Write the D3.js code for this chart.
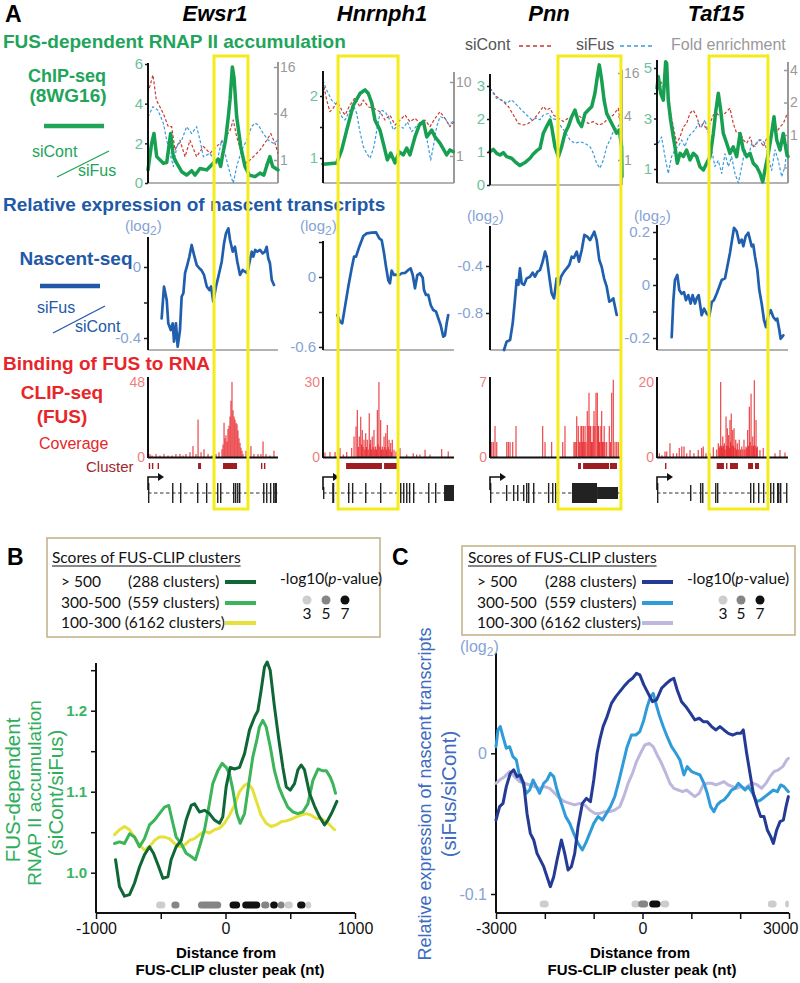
<!DOCTYPE html>
<html><head><meta charset="utf-8">
<script src="https://cdn.jsdelivr.net/npm/d3@7"></script>
<style>body{margin:0;background:#fff}svg{display:block}</style>
</head><body><svg id="chart" width="800" height="983"></svg>
<script>
// ================= DATA =================
const geneNames = ["Ewsr1","Hnrnph1","Pnn","Taf15"];
// yellow highlighted regions (% of gene body)
const highlightRegions = [[50.8,76.9],[11.5,57.3],[51.5,99.2],[39.7,84.7]];

// ChIP-seq: FUS-dependent RNAP II ratio (siCont/siFus), [position %, ratio]
const ewsr1ChipRatio = [[0,0.66],[2.8,2.0],[4.6,2.5],[6.7,1.33],[11.8,1.0],[14.4,1.03],[17.4,2.5],[19.5,1.33],[22.1,1.0],[25.9,0.57],[29.7,0.40],[33.6,0.62],[36.2,0.40],[40,0.73],[45.1,0.66],[50.2,1.0],[54.1,1.2],[55.9,0.83],[57.4,1.42],[59.7,2.17],[61.8,3.35],[63.1,4.2],[64.9,5.85],[66.2,5.3],[68.2,3.35],[71.3,1.85],[74.6,0.83],[77.9,0.40],[82.3,0.32],[86.2,0.5],[89.2,0.40],[91.3,0.86],[93.8,1.33],[95.9,0.83],[100,0.66]];
const hnrnph1ChipRatio = [[0,0.90],[10.5,0.92],[14.3,1.13],[18.1,1.45],[23.1,1.85],[28.2,2.04],[32.1,2.10],[34.6,2.04],[37.2,1.89],[39.7,1.61],[43.5,1.45],[46.0,1.24],[49.1,0.97],[51.7,1.08],[55.0,0.92],[58.2,1.10],[61.3,1.05],[63.9,1.16],[66.4,1.05],[70.2,1.34],[73.5,1.53],[76.6,1.59],[79.2,1.34],[83.0,1.45],[85.5,1.34],[89.3,1.24],[94.4,1.05],[96.9,1.13],[99.5,1.10]];
const pnnChipRatio = [[0,1.01],[2.5,1.08],[5.1,0.96],[7.6,0.91],[10.1,0.98],[12.6,0.86],[16.4,0.81],[18.9,0.71],[22.7,0.59],[26.5,0.68],[30.3,0.81],[32.8,0.94],[35.4,1.04],[37.9,1.11],[40.4,1.57],[42.9,1.77],[45.5,1.97],[46.7,1.77],[49.2,1.16],[51.8,0.86],[54.3,1.16],[56.8,1.57],[59.3,1.77],[61.9,2.07],[64.4,2.27],[66.9,1.92],[69.4,1.77],[72.0,2.17],[74.5,2.27],[77.0,2.37],[79.5,2.78],[81.3,3.28],[82.8,3.64],[84.6,3.18],[86.4,2.58],[88.4,2.17],[90.9,1.97],[93.4,1.77],[95.9,1.57],[98.0,1.67],[99.7,1.16],[100,0.25]];
const taf15ChipRatio = [[0,4.2],[1.0,4.66],[2.8,4.0],[4.8,3.73],[6.6,5.25],[7.4,5.18],[8.6,3.73],[10.4,2.94],[12.0,2.41],[13.7,1.88],[15.5,1.23],[17.6,1.62],[20.1,1.49],[22.6,1.75],[25.2,1.36],[27.7,1.62],[30.3,1.49],[32.8,1.09],[35.4,0.96],[37.9,1.23],[40.5,1.49],[43.0,2.41],[45.0,3.34],[46.8,4.0],[48.6,3.34],[50.6,2.41],[53.2,2.02],[55.7,1.62],[58.2,1.88],[60.8,1.49],[63.4,2.41],[65.9,1.75],[68.5,1.49],[71.0,1.62],[73.5,1.23],[76.1,1.09],[78.6,0.83],[80.7,0.49],[82.4,0.96],[85.0,1.62],[87.5,2.41],[89.3,3.07],[91.4,2.15],[93.9,1.75],[96.4,2.41],[99.0,1.62],[100,1.49]];

// ChIP-seq fold enrichment (siCont / siFus)
const ewsr1ChipSiCont = [[0,7.4],[3.8,12.6],[6.4,6.0],[11.8,4.0],[15.6,2.7],[18.2,2.7],[20.8,1.35],[24.6,1.8],[28.5,1.1],[32.3,1.8],[37.4,1.1],[42.6,1.5],[47.7,1.22],[52.8,1.5],[58.0,1.8],[63.1,2.4],[65.6,3.3],[68.2,2.0],[72.1,1.22],[75.9,0.91],[81.0,1.1],[86.2,1.35],[91.3,1.8],[94.4,2.2],[97.7,1.65],[100,1.22]];
const ewsr1ChipSiFus = [[0,3.6],[3.8,4.9],[7.7,4.4],[11.8,3.0],[14.4,1.8],[16.9,1.22],[19.5,0.82],[22.1,1.49],[25.9,1.8],[29.7,2.7],[33.6,2.2],[37.4,2.7],[40.0,1.8],[42.6,1.1],[47.7,1.22],[52.8,0.9],[56.7,1.8],[59.2,1.22],[63.1,0.67],[65.6,0.5],[68.2,0.82],[72.1,1.35],[75.9,1.8],[79.7,2.7],[82.3,3.0],[84.9,2.84],[88.7,2.2],[92.6,1.8],[96.4,1.65],[100,1.8]];
const hnrnph1ChipSiCont = [[0,10.1],[2.8,5.7],[5.3,3.97],[7.9,4.45],[10.9,5.4],[14.3,4.18],[16.8,3.58],[20.6,4.9],[24.4,6.1],[28.2,4.6],[30.8,5.7],[34.6,4.6],[38.4,4.45],[43.5,3.97],[47.3,3.06],[51.1,3.58],[55.0,2.62],[58.8,3.06],[62.6,3.58],[66.4,2.9],[70.2,3.23],[74.0,2.79],[77.9,3.06],[81.7,2.49],[85.5,3.23],[89.3,3.97],[93.1,3.23],[96.9,2.49],[100,2.9]];
const hnrnph1ChipSiFus = [[0,10.5],[2.8,7.8],[6.6,5.7],[10.4,4.9],[14.3,3.4],[16.8,3.06],[20.6,4.18],[23.1,4.9],[25.7,3.78],[28.2,2.13],[30.8,1.34],[33.3,1.09],[35.9,0.93],[38.9,1.34],[41.5,2.49],[44.0,4.18],[47.3,3.97],[49.9,3.4],[53.7,2.25],[57.5,2.62],[61.3,2.37],[64.4,2.9],[67.7,2.13],[71.0,2.49],[74.0,2.79],[76.6,2.9],[80.4,1.34],[82.2,0.88],[84.2,1.34],[86.8,2.49],[89.3,3.4],[93.1,3.23],[96.4,2.62],[100,3.06]];
const pnnChipSiCont = [[0,9.8],[5.1,7.5],[10.1,6.4],[13.9,5.5],[17.7,4.2],[21.5,3.2],[25.3,3.05],[29.0,3.2],[32.8,3.6],[36.6,4.4],[40.4,5.5],[42.9,4.9],[45.5,5.2],[48.0,4.2],[51.8,3.8],[55.6,3.4],[59.3,3.8],[63.1,4.0],[66.9,4.2],[70.7,3.6],[74.5,3.2],[78.3,3.4],[82.1,3.05],[85.9,3.2],[89.6,3.8],[93.4,4.2],[97.2,5.2],[100,2.4]];
const pnnChipSiFus = [[0,9.8],[5.1,7.1],[8.8,6.8],[12.6,6.1],[16.4,6.8],[20.2,5.8],[24.0,4.9],[27.8,4.2],[31.6,3.6],[35.4,3.8],[37.9,3.6],[40.4,4.2],[44.2,4.4],[46.7,3.8],[50.5,3.6],[53.0,3.05],[56.8,2.47],[60.6,1.89],[64.4,1.7],[68.2,1.79],[72.0,1.7],[75.8,1.53],[78.3,1.24],[80.8,0.90],[83.3,0.77],[85.9,1.0],[88.4,1.53],[90.9,1.89],[93.4,2.47],[95.9,2.74],[98.5,3.2],[100,4.2]];
const taf15ChipSiCont = [[1.0,3.47],[4.8,2.8],[7.4,3.2],[9.9,1.7],[12.5,1.19],[15.0,0.84],[17.6,0.96],[20.1,1.19],[22.6,1.28],[25.2,1.59],[27.7,1.7],[30.3,1.48],[32.8,1.19],[35.4,1.28],[37.9,1.11],[40.5,1.28],[43.0,1.53],[45.5,1.59],[48.1,1.48],[51.9,1.59],[55.7,1.77],[58.2,1.28],[60.8,1.04],[63.4,1.05],[65.9,0.9],[68.5,0.84],[71.0,0.96],[73.5,0.78],[76.1,0.84],[78.6,0.9],[81.2,0.78],[83.7,0.93],[86.3,0.96],[88.8,1.11],[91.4,1.07],[93.9,1.19],[96.4,1.28],[99.0,1.53]];
const taf15ChipSiFus = [[1.0,0.84],[3.5,0.96],[6.1,0.63],[8.6,0.44],[11.1,0.63],[13.7,0.73],[16.2,0.78],[18.8,0.9],[21.3,0.78],[23.9,0.96],[26.4,1.04],[28.9,1.11],[31.5,1.28],[34.0,1.19],[36.6,1.38],[39.1,1.04],[41.7,0.73],[44.2,0.51],[46.8,0.58],[49.4,0.44],[51.9,0.67],[54.5,0.51],[57.0,0.63],[59.5,0.44],[62.1,0.36],[64.7,0.51],[67.2,0.73],[69.7,0.63],[72.3,0.84],[74.8,0.78],[77.4,0.9],[79.9,0.9],[82.4,0.84],[85.0,0.63],[87.5,0.47],[90.1,0.73],[92.6,0.58],[95.2,0.41],[97.7,0.51],[99.5,0.84]];

// Nascent-seq log2(siFus/siCont)
const ewsr1Nascent = [[10.5,-0.29],[12.3,-0.11],[14.4,-0.186],[15.6,-0.317],[17.5,-0.355],[19.0,-0.317],[20.0,-0.42],[21.5,-0.317],[22.8,-0.449],[24.6,-0.355],[25.9,-0.167],[27.2,-0.148],[28.5,-0.035],[30.2,0.011],[31.8,0.058],[33.6,0.124],[35.4,0.068],[37.5,0.011],[39.5,-0.007],[41.3,-0.02],[43.1,-0.045],[45.2,-0.11],[47.2,-0.13],[48.5,-0.11],[50.2,-0.195],[52.3,-0.11],[54.1,-0.055],[56.7,0.03],[58.5,0.134],[60.0,0.19],[61.8,0.218],[63.1,0.152],[65.2,0.086],[66.9,0.114],[68.7,0.03],[70.8,-0.045],[72.8,-0.017],[74.6,-0.026],[76.4,-0.035],[77.9,0.021],[79.8,0.086],[81.0,0.058],[82.5,0.096],[84.1,0.086],[86.2,0.096],[88.2,0.077],[90.0,0.086],[91.3,0.114],[92.5,0.049],[93.8,0.021],[95.2,-0.073],[96.9,-0.101]];
const hnrnph1Nascent = [[10.9,-0.326],[13.0,-0.383],[14.7,-0.397],[16.8,-0.254],[19.3,-0.083],[21.9,0.074],[23.7,0.174],[25.2,0.174],[27.7,0.26],[30.8,0.351],[33.4,0.374],[37.2,0.38],[40.5,0.383],[43.0,0.331],[44.8,0.317],[46.6,0.203],[48.1,0.088],[49.8,-0.026],[51.1,-0.054],[52.4,0.054],[54.2,0.017],[56.3,0.02],[58.2,0.017],[60.1,0.032],[62.6,0.035],[65.1,0.06],[66.9,0.074],[68.5,0.017],[70.2,-0.097],[72.0,0.017],[74.0,0.032],[76.1,-0.006],[77.1,-0.111],[78.6,-0.154],[80.4,-0.154],[82.2,-0.24],[84.2,-0.283],[86.3,-0.297],[88.0,-0.354],[89.8,-0.411],[91.8,-0.511],[93.1,-0.5],[94.4,-0.397],[95.6,-0.326]];
const pnnNascent = [[10.6,-1.115],[12.6,-1.044],[15.2,-1.03],[17.2,-0.888],[18.9,-0.689],[20.2,-0.519],[21.5,-0.56],[22.7,-0.42],[24.0,-0.547],[25.8,-0.56],[27.8,-0.505],[30.3,-0.491],[32.3,-0.457],[34.1,-0.491],[35.9,-0.45],[37.9,-0.434],[39.9,-0.363],[41.7,-0.278],[42.9,-0.32],[44.9,-0.491],[46.7,-0.632],[48.5,-0.675],[50.5,-0.505],[52.3,-0.56],[53.8,-0.491],[56.1,-0.448],[58.1,-0.42],[60.1,-0.391],[61.9,-0.32],[63.6,-0.33],[65.7,-0.278],[67.4,-0.363],[69.5,-0.264],[71.5,-0.136],[73.7,-0.15],[75.8,-0.179],[77.8,-0.136],[79.0,-0.108],[80.8,-0.179],[82.8,-0.349],[84.6,-0.406],[86.4,-0.505],[88.4,-0.576],[90.4,-0.704],[92.2,-0.69],[93.4,-0.675],[94.7,-0.746],[96.0,-0.817]];
const taf15Nascent = [[11.2,-0.197],[12.5,-0.057],[13.7,0.019],[15.5,0.038],[17.0,-0.019],[18.8,-0.033],[20.6,-0.027],[22.1,-0.057],[23.9,-0.038],[25.7,-0.07],[27.2,-0.038],[29.0,-0.07],[30.3,-0.05],[31.8,-0.038],[34.1,-0.114],[35.9,-0.089],[37.9,-0.108],[39.9,-0.118],[41.8,-0.064],[43.5,-0.057],[45.6,-0.032],[47.6,-0.006],[49.4,0.019],[51.9,0.025],[53.7,0.07],[55.7,0.121],[57.3,0.171],[58.8,0.216],[60.8,0.203],[62.8,0.159],[64.7,0.171],[65.9,0.146],[67.7,0.184],[69.7,0.197],[71.0,0.171],[72.3,0.146],[73.5,0.152],[74.8,0.108],[76.6,0.057],[78.1,-0.019],[79.9,-0.07],[81.7,-0.133],[83.2,-0.159],[85.0,-0.114],[86.8,-0.095],[88.8,-0.121],[90.8,-0.133],[91.8,-0.127],[93.4,-0.171],[94.4,-0.203],[96.4,-0.19]];

// CLIP-seq coverage [position %, reads]
const ewsr1Clip = [[1.5,2],[3.1,1],[6.2,2],[9.2,1],[12.3,2],[15.4,1],[18.5,1],[21.5,2],[24.6,2],[26.9,1],[29.2,2],[32.3,3],[34.6,7],[36.9,2],[38.5,24],[40.8,3],[43.1,5],[46.2,2],[49.2,1],[52.3,2],[54.6,3],[56.9,5],[57.7,8],[58.5,22],[59.2,12],[60.0,14],[60.8,10],[61.5,18],[62.3,20],[63.1,26],[63.8,36],[64.6,48],[65.4,30],[66.2,26],[66.9,24],[67.7,22],[68.5,21],[69.2,17],[70.0,12],[70.8,9],[71.5,6],[72.3,4],[73.1,2],[75.4,4],[76.9,2],[79.2,7],[81.5,2],[84.6,2],[86.9,2],[88.5,10],[90.8,2],[93.8,1],[96.9,4]];
const hnrnph1Clip = [[1.5,1.8],[5.3,2],[9.2,2],[13.0,3.6],[15.5,1],[18.1,2],[21.9,3.6],[23.7,8.2],[25.2,12.2],[26.2,18.8],[27.0,4],[27.7,8.2],[28.8,16.1],[29.4,5],[30.0,10.8],[30.6,4],[31.3,6.9],[32.0,3],[32.6,9.5],[33.2,4],[33.8,6.9],[34.5,3],[35.3,17.5],[35.9,5],[36.4,6.9],[37.0,3],[37.6,8.2],[38.3,4],[38.9,10.8],[39.5,3],[40.2,4.2],[40.8,3],[41.5,18.8],[42.1,5],[42.7,30],[43.4,4],[44.0,14.8],[44.6,3],[45.3,4.2],[46.0,3],[46.6,8.2],[47.2,4],[47.9,9.5],[48.5,3],[49.1,12.8],[49.8,4],[50.4,6.9],[51.1,3],[51.7,5.6],[52.3,2],[52.9,6.9],[54.2,2.9],[55.7,2.2],[58.8,3.6],[63.9,1],[68.9,1.5],[71.5,1],[74.0,1],[77.9,2.9],[81.7,1],[90.6,3.2],[95.6,2.2]];
const pnnClip = [[1.3,1.4],[2.5,1.4],[3.8,2.9],[5.1,1.4],[12.7,1.4],[13.9,1.4],[15.2,1.4],[17.2,1.4],[19.7,2.9],[39.9,2.9],[41.7,1.4],[46.7,1.4],[55.1,1.4],[56.8,2.9],[63.6,1.4],[64.4,1.4],[65.2,1.4],[65.7,3.8],[66.9,2.9],[67.6,1.4],[68.2,1.4],[68.9,2.9],[69.5,2.9],[70.1,1.4],[70.7,2.9],[71.4,1.4],[72.0,2.9],[72.7,1.4],[73.7,4.3],[74.4,2.9],[75.0,6.0],[75.7,2.9],[76.3,2.9],[76.9,1.4],[77.5,1.4],[78.2,2.9],[78.8,4.3],[79.5,2.9],[80.3,6.0],[81.3,6.0],[81.8,2.9],[82.3,2.9],[82.8,1.4],[83.3,1.4],[84.0,2.9],[84.6,4.3],[85.2,1.4],[85.8,1.4],[86.5,2.9],[87.1,1.4],[88.4,1.4],[90.4,2.9],[91.3,1.4],[92.2,6.0],[93.4,7.2],[94.7,1.4],[96.0,1.4],[97.2,1.4]];
const taf15Clip = [[1.8,1],[3.8,0.5],[6.1,1.5],[7.4,1.5],[9.9,3.7],[12.4,1],[15.0,1],[17.0,2.4],[18.9,2.8],[20.6,2.8],[22.7,1],[25.2,1.9],[28.2,1],[31.5,1.9],[34.1,2.4],[35.3,2.8],[37.4,1],[40.5,1],[43.0,2.6],[45.6,2],[46.8,3.7],[47.5,2.5],[48.0,3],[48.6,20],[49.2,3],[49.7,2.5],[50.2,5.5],[50.8,3],[51.4,3.7],[52.0,2],[52.7,10.8],[53.2,3],[53.7,7.7],[54.2,3],[54.7,5.9],[55.2,2.5],[55.7,9.9],[56.2,4],[56.7,11.6],[57.2,3],[57.8,7.2],[58.3,3],[58.8,7.7],[59.5,2.5],[60.1,4.6],[60.7,2],[61.3,3.7],[62.0,2],[62.8,4.6],[63.7,2],[64.7,2.8],[65.5,2],[66.4,4.6],[67.1,2],[67.9,2.8],[68.5,2.5],[69.2,7.2],[69.8,3],[70.5,13.4],[71.1,4],[71.8,16.9],[72.4,3],[73.1,5.5],[73.7,3],[74.3,20.5],[74.9,3],[75.6,9.9],[76.1,2.5],[76.6,2.8],[78.6,1.9],[81.1,2.4],[90.1,1],[93.9,1.9],[97.7,1.2]];

// CLIP clusters [start %, end %]
const ewsr1Clusters = [[0.6,1.3],[3.0,3.7],[7.4,8.1],[38.5,40.8],[57.7,68.5],[86.9,87.7],[89.2,90.0]];
const hnrnph1Clusters = [[17.6,45.0],[46.6,56.5]];
const pnnClusters = [[66.7,68.9],[70.5,90.2],[90.9,96.2]];
const taf15Clusters = [[6.1,6.9],[45.6,51.1],[52.7,53.4],[55.7,61.8],[69.5,73.3],[74.8,77.9]];

// gene models: exons [start %, end %, relative thickness]
const ewsr1Exons = [[0,0.6,1],[18.5,19.2,1],[24.6,25.2,1],[37.7,38.3,1],[44.6,45.2,1],[53.1,53.7,1],[55.4,56,1],[65.4,66,1],[66.9,67.5,1],[68.5,69.1,1],[70.0,70.6,1],[76.2,76.8,1],[88.5,89.1,1],[90.8,91.4,1],[93.8,94.4,1],[96.2,96.8,1],[97.3,99.2,1]];
const hnrnph1Exons = [[0,0.8,0.6],[7.0,8.6,1],[19.1,19.9,1],[22.1,22.9,1],[32.1,32.9,1],[43.5,44.3,1],[58.8,59.5,1],[61.1,61.8,1],[63.4,64.1,1],[65.6,66.3,1],[68.7,69.4,1],[80.2,80.9,1],[85.5,86.2,1],[92.4,100,0.8]];
const pnnExons = [[0,0.8,1],[12.1,12.7,0.8],[17.4,18,0.8],[20.5,21.1,0.8],[25.0,25.6,0.8],[27.3,27.9,1],[28.8,29.4,1],[32.6,33.2,1],[43.9,44.5,1],[47.0,47.6,1],[49.2,49.8,1],[62.1,81.1,1],[81.1,97.0,0.6]];
const taf15Exons = [[0,0.6,1],[25.2,25.8,0.8],[32.8,33.4,1],[34.4,35,1],[44.3,44.9,1],[45.8,46.4,1],[71.0,71.6,1],[73.3,73.9,1],[77.1,77.7,1],[80.9,81.5,1],[86.3,86.9,1],[88.5,89.1,1],[91.6,92.2,1],[92.4,93,1],[93.9,94.5,1],[98.5,99.1,1]];

// axis tick labels panel A
const chipLeftTicks = [[0,2,4,6],[1,2],[0,1,2,3],[1,3,5]];
const chipLeftMinor = [[],[1.5],[],[2,4]];
const chipRightTicks = [[1,4,16],[1,10],[1,4,16],[1,2,4]];
const chipRightMinor = [[],[],[],[0.5]];
const nascentTicks = [[0,-0.4],[0,-0.6],[-0.4,-0.8],[0.2,0,-0.2]];
const nascentMinor = [[-0.2],[0.3,-0.3],[],[0.1,-0.1]];
const clipMax = [48,30,7,20];

// Panel B: RNAP II accumulation around FUS-CLIP cluster peaks [nt, siCont/siFus]
const bGt500 = [[-849,1.016],[-819,0.983],[-780,0.971],[-741,0.973],[-703,0.987],[-664,1.007],[-626,1.022],[-587,1.032],[-556,1.024],[-515,1.007],[-484,0.993],[-445,0.995],[-420,1.016],[-381,1.032],[-342,1.040],[-304,1.065],[-265,1.083],[-239,1.085],[-201,1.075],[-162,1.077],[-124,1.073],[-85,1.065],[-46,1.061],[-21,1.069],[5,1.106],[36,1.130],[69,1.128],[108,1.130],[147,1.147],[185,1.176],[224,1.192],[250,1.200],[275,1.225],[301,1.254],[322,1.260],[345,1.250],[378,1.205],[412,1.164],[443,1.130],[469,1.106],[500,1.102],[533,1.110],[559,1.127],[585,1.133],[610,1.127],[649,1.098],[688,1.082],[726,1.069],[765,1.059],[791,1.065],[824,1.075],[860,1.088]];
const b300to500 = [[-857,1.036],[-819,1.038],[-780,1.036],[-741,1.048],[-703,1.044],[-664,1.032],[-626,1.042],[-587,1.059],[-548,1.065],[-510,1.073],[-471,1.081],[-438,1.083],[-412,1.065],[-381,1.044],[-342,1.036],[-304,1.024],[-265,1.020],[-232,1.016],[-201,1.032],[-162,1.053],[-129,1.081],[-98,1.110],[-59,1.126],[-26,1.135],[5,1.130],[31,1.122],[57,1.102],[87,1.073],[113,1.061],[147,1.073],[180,1.110],[211,1.143],[242,1.164],[262,1.180],[288,1.188],[314,1.180],[345,1.156],[378,1.126],[412,1.106],[443,1.094],[481,1.081],[520,1.075],[559,1.073],[597,1.075],[636,1.085],[675,1.114],[714,1.128],[747,1.126],[778,1.126],[809,1.118],[829,1.110],[850,1.098]];
const b100to300 = [[-857,1.047],[-819,1.053],[-780,1.057],[-741,1.053],[-703,1.044],[-664,1.034],[-626,1.028],[-587,1.032],[-548,1.040],[-510,1.044],[-471,1.044],[-433,1.042],[-394,1.036],[-355,1.032],[-317,1.034],[-278,1.040],[-239,1.042],[-201,1.047],[-162,1.051],[-124,1.049],[-85,1.053],[-46,1.055],[-8,1.061],[31,1.071],[69,1.083],[108,1.100],[147,1.108],[172,1.110],[206,1.104],[237,1.089],[275,1.071],[314,1.061],[353,1.057],[391,1.059],[430,1.063],[469,1.064],[507,1.066],[546,1.069],[585,1.071],[623,1.073],[662,1.071],[700,1.067],[739,1.067],[778,1.063],[817,1.057],[842,1.053]];
// significance strips [start nt, end nt, -log10(p)]
const bSignif = [[-536,-464,3],[-418,-355,5],[-213,-33,5],[31,113,7],[129,268,7],[275,339,5],[345,404,7],[404,456,5],[456,520,3],[553,618,7],[618,662,3]];

// Panel C: nascent transcripts log2(siFus/siCont) around cluster peaks
const cGt500 = [[-3000,-0.0474],[-2926,-0.0379],[-2857,-0.0356],[-2789,-0.0237],[-2707,-0.0142],[-2638,-0.0118],[-2570,-0.0166],[-2502,-0.0154],[-2433,-0.0213],[-2365,-0.0427],[-2297,-0.0569],[-2228,-0.0616],[-2160,-0.0711],[-2092,-0.0758],[-2023,-0.0806],[-1955,-0.0877],[-1887,-0.0948],[-1818,-0.0877],[-1750,-0.0758],[-1661,-0.0616],[-1593,-0.0711],[-1524,-0.0829],[-1456,-0.0806],[-1388,-0.0711],[-1320,-0.0521],[-1231,-0.0356],[-1149,-0.0320],[-1067,-0.0344],[-998,-0.0190],[-930,0.0],[-875,0.0095],[-807,0.0190],[-725,0.0261],[-636,0.0355],[-547,0.0403],[-465,0.0438],[-383,0.0474],[-294,0.0509],[-205,0.0533],[-123,0.0569],[-55,0.0557],[27,0.0486],[116,0.0426],[205,0.0367],[287,0.0379],[390,0.0462],[492,0.0497],[574,0.0521],[642,0.0533],[711,0.0450],[800,0.0367],[889,0.0331],[984,0.0284],[1073,0.0237],[1162,0.0249],[1244,0.0225],[1326,0.0225],[1415,0.0190],[1504,0.0166],[1586,0.0190],[1668,0.0166],[1757,0.0142],[1846,0.0130],[1928,0.0142],[2010,0.0142],[2064,0.0166],[2133,0.0],[2201,-0.0142],[2269,-0.0284],[2351,-0.0379],[2420,-0.0450],[2488,-0.0450],[2556,-0.0545],[2625,-0.0592],[2680,-0.0640],[2748,-0.0545],[2816,-0.0486],[2885,-0.0474],[2939,-0.0379],[2987,-0.0308]];
const c300to500 = [[-3000,0.0047],[-2960,0.0166],[-2912,0.0190],[-2857,0.0118],[-2789,0.0036],[-2721,0.0047],[-2652,-0.0024],[-2584,-0.0047],[-2516,-0.0166],[-2447,-0.0213],[-2379,-0.0284],[-2311,-0.0261],[-2242,-0.0190],[-2174,-0.0237],[-2106,-0.0284],[-2023,-0.0213],[-1955,-0.0190],[-1887,-0.0142],[-1818,-0.0166],[-1750,-0.0261],[-1661,-0.0356],[-1572,-0.0450],[-1490,-0.0498],[-1408,-0.0569],[-1320,-0.0640],[-1231,-0.0687],[-1149,-0.0628],[-1081,-0.0569],[-998,-0.0498],[-909,-0.0450],[-820,-0.0474],[-739,-0.0427],[-657,-0.0379],[-568,-0.0308],[-479,-0.0190],[-397,-0.0071],[-315,0.0047],[-226,0.0130],[-137,0.0130],[-55,0.0154],[27,0.0237],[96,0.0331],[164,0.0403],[219,0.0426],[274,0.0355],[342,0.0273],[424,0.0190],[506,0.0118],[595,0.0047],[684,0.0],[766,-0.0047],[848,-0.0154],[916,-0.0095],[1005,-0.0130],[1094,-0.0142],[1176,-0.0154],[1258,-0.0213],[1326,-0.0284],[1395,-0.0379],[1463,-0.0415],[1531,-0.0367],[1600,-0.0344],[1668,-0.0332],[1757,-0.0296],[1826,-0.0261],[1894,-0.0249],[1962,-0.0213],[2030,-0.0237],[2099,-0.0261],[2167,-0.0237],[2256,-0.0284],[2338,-0.0344],[2420,-0.0332],[2509,-0.0308],[2597,-0.0284],[2680,-0.0261],[2761,-0.0273],[2830,-0.0225],[2898,-0.0237],[2987,-0.0273]];
const c100to300 = [[-3000,-0.0213],[-2926,-0.0190],[-2823,-0.0166],[-2721,-0.0130],[-2618,-0.0166],[-2516,-0.0201],[-2413,-0.0213],[-2311,-0.0225],[-2208,-0.0237],[-2106,-0.0249],[-2003,-0.0237],[-1900,-0.0249],[-1798,-0.0284],[-1695,-0.0320],[-1593,-0.0344],[-1490,-0.0356],[-1388,-0.0367],[-1285,-0.0356],[-1183,-0.0367],[-1081,-0.0403],[-978,-0.0427],[-875,-0.0427],[-773,-0.0415],[-670,-0.0415],[-568,-0.0403],[-465,-0.0379],[-383,-0.0308],[-294,-0.0213],[-205,-0.0142],[-123,-0.0059],[-41,0.0],[48,0.0059],[137,0.0071],[219,0.0047],[301,-0.0012],[390,-0.0071],[479,-0.0142],[561,-0.0213],[642,-0.0249],[731,-0.0261],[820,-0.0273],[902,-0.0261],[984,-0.0284],[1073,-0.0308],[1162,-0.0284],[1244,-0.0225],[1326,-0.0213],[1415,-0.0213],[1504,-0.0225],[1586,-0.0213],[1668,-0.0201],[1757,-0.0225],[1846,-0.0237],[1928,-0.0249],[2010,-0.0237],[2099,-0.0249],[2187,-0.0225],[2269,-0.0213],[2351,-0.0225],[2440,-0.0249],[2529,-0.0213],[2611,-0.0166],[2693,-0.0130],[2782,-0.0118],[2871,-0.0095],[2953,-0.0047],[2987,-0.0036]];
const cSignif = [[-2106,-1921,3],[-226,-55,3],[-89,116,5],[137,369,7],[369,547,3],[2565,2748,3],[2920,3000,3]];

const legendScores = ["> 500","300-500","100-300"];
const legendCounts = ["(288 clusters)","(559 clusters)","(6162 clusters)"];
const pvalLevels = [3,5,7];

// ================= DRAWING =================
const F = '"Liberation Sans", Arial, Helvetica, sans-serif';
const FL = 'Lato, "Open Sans", sans-serif';
const svg = d3.select("#chart");
svg.append("rect").attr("width",800).attr("height",983).attr("fill","#fff");

function T(x,y,s,o={}){
  const t = svg.append("text").attr("x",x).attr("y",y).text(s)
    .attr("font-family",o.ff||F).attr("font-size",o.fs||15).attr("fill",o.c||"#000");
  if(o.fw) t.attr("font-weight",o.fw);
  if(o.st) t.attr("font-style",o.st);
  if(o.a) t.attr("text-anchor",o.a);
  if(o.tr) t.attr("transform",o.tr);
  return t;
}
function drawLine(data,xs,ys,color,w,dash){
  svg.append("path").datum(data)
    .attr("d",d3.line().x(d=>xs(d[0])).y(d=>ys(d[1])))
    .attr("fill","none").attr("stroke",color).attr("stroke-width",w)
    .attr("stroke-linejoin","round").attr("stroke-linecap",dash?"butt":"round")
    .attr("stroke-dasharray",dash||null);
}
function yAxis(scale,x,ticks,minor,yTop,yBot,o){
  const mk = ()=> (o.right? d3.axisRight(scale): d3.axisLeft(scale));
  const ts = (o.ts===undefined)?4:o.ts;
  const g = svg.append("g").attr("transform",`translate(${x},0)`)
    .call(mk().tickValues(ticks).tickSize(ts).tickPadding(o.tp===undefined?3:o.tp).tickFormat(o.fmt||(d=>String(d))));
  g.select(".domain").remove();
  g.selectAll(".tick line").attr("stroke",o.tc).attr("stroke-width",1.5);
  g.selectAll(".tick text").attr("fill",o.lc).attr("font-size",o.fs||15).attr("font-family",F).attr("font-weight",o.fw||null);
  if(minor && minor.length){
    const g2 = svg.append("g").attr("transform",`translate(${x},0)`)
      .call(mk().tickValues(minor).tickSize(ts).tickFormat(""));
    g2.select(".domain").remove();
    g2.selectAll(".tick line").attr("stroke",o.tc).attr("stroke-width",1.5);
  }
  svg.append("line").attr("x1",x).attr("x2",x).attr("y1",yTop).attr("y2",yBot)
    .attr("stroke",o.ac).attr("stroke-width",o.aw||2);
}
function hLine(x1,x2,y,c,w,dash){
  return svg.append("line").attr("x1",x1).attr("x2",x2).attr("y1",y).attr("y2",y).attr("stroke",c).attr("stroke-width",w).attr("stroke-dasharray",dash||null);
}

const GREEN="#22a45a", BLUE="#2159a8", RED="#e8262a";
const NAVY_LINE="#1f5fae";

// ---------- Panel A headers ----------
T(5,22,"A",{fs:23,fw:"bold"});
const geneCenters=[215,382,549,716];
geneNames.forEach((g,i)=>T(geneCenters[i],21,g,{fs:22,fw:"bold",st:"italic",a:"middle"}));
T(3,48,"FUS-dependent RNAP II accumulation",{fs:19,fw:"bold",c:GREEN});
T(3,211,"Relative expression of nascent transcripts",{fs:19,fw:"bold",c:BLUE});
T(3,370,"Binding of FUS to RNA",{fs:19,fw:"bold",c:RED});

// top legend
T(465,50,"siCont",{fs:16,c:"#555"});
hLine(519,553,46,"#c8392f",1.3,"4,3");
T(576,50,"siFus",{fs:16,c:"#555"});
hLine(620,655,46,"#3a9be0",1.3,"4,3");
T(671,50,"Fold enrichment",{fs:16,c:"#999"});

// left labels
T(67,82,"ChIP-seq",{fs:18,fw:"bold",c:GREEN,a:"middle"});
T(68,102,"(8WG16)",{fs:19,fw:"bold",c:GREEN,a:"middle"});
hLine(44,104,126,GREEN,4.5);
T(32,157,"siCont",{fs:16,c:GREEN});
T(78,176,"siFus",{fs:16,c:GREEN});
svg.append("line").attr("x1",57).attr("y1",177).attr("x2",109).attr("y2",151).attr("stroke",GREEN).attr("stroke-width",1.3);

T(76,265,"Nascent-seq",{fs:19,fw:"bold",c:BLUE,a:"middle"});
hLine(40,100,286,BLUE,4.5);
T(37,313,"siFus",{fs:16,c:BLUE});
T(75,332,"siCont",{fs:16,c:BLUE});
svg.append("line").attr("x1",53).attr("y1",333).attr("x2",105).attr("y2",306).attr("stroke",BLUE).attr("stroke-width",1.3);

T(62,399,"CLIP-seq",{fs:19,fw:"bold",c:RED,a:"middle"});
T(62,423,"(FUS)",{fs:19,fw:"bold",c:RED,a:"middle"});
T(39,449,"Coverage",{fs:16,c:RED});
T(86,472,"Cluster",{fs:15,c:"#a0282a"});

// ---------- Panel A tracks ----------
const plotX=[[148,278],[323,454],[490,622],[657,788]];
const chipRatio=[ewsr1ChipRatio,hnrnph1ChipRatio,pnnChipRatio,taf15ChipRatio];
const chipSiCont=[ewsr1ChipSiCont,hnrnph1ChipSiCont,pnnChipSiCont,taf15ChipSiCont];
const chipSiFus=[ewsr1ChipSiFus,hnrnph1ChipSiFus,pnnChipSiFus,taf15ChipSiFus];
const nascent=[ewsr1Nascent,hnrnph1Nascent,pnnNascent,taf15Nascent];
const clip=[ewsr1Clip,hnrnph1Clip,pnnClip,taf15Clip];
const clusters=[ewsr1Clusters,hnrnph1Clusters,pnnClusters,taf15Clusters];
const exons=[ewsr1Exons,hnrnph1Exons,pnnExons,taf15Exons];

// scale calibration (layout)
const lin=(v0,y0,v1,y1)=>d3.scaleLinear().domain([v0,v1]).range([y0,y1]);
const lg=(b,v0,y0,v1,y1)=>d3.scaleLog().base(b).domain([v0,v1]).range([y0,y1]);
const chipL=[lin(0,183,6,64),lin(1,158,2,96),lin(0,185,3,86),lin(1,169,5,68)];
const chipR=[lg(2,1,160,16,67),lg(10,1,156,10,82),lg(2,1,160,16,73),lg(2,1,135,4,70)];
const chipLTop=[63,71,74,60], chipRTop=[62,72,70,62], chipBot=[183,183,185,183];
const nasS=[lin(0,267,-0.4,338),lin(0,277,-0.6,347),lin(-0.4,266,-0.8,313),lin(0,285,0.2,232)];
const nasTop=[237,241,226,225], nasBot=350;
const logLabY=[231,231,221,221];
const clipBot=457, clipTopV=382;

geneNames.forEach((g,i)=>{
  const x=d3.scaleLinear().domain([0,100]).range(plotX[i]);
  const [x0,x1]=plotX[i];
  // ChIP
  hLine(x0,x1,chipBot[i],"#999",1.5);
  yAxis(chipR[i],x1,chipRightTicks[i],chipRightMinor[i],chipRTop[i],chipBot[i],{right:true,ts:-4,tp:2,tc:"#999",lc:"#9a9a9a",ac:"#999",fs:14});
  drawLine(chipSiCont[i],x,chipR[i],"#cc3b30",1.2,"3,2");
  drawLine(chipSiFus[i],x,chipR[i],"#3a9be0",1.2,"3,2");
  drawLine(chipRatio[i],x,chipL[i],"#17a052",3.5);
  yAxis(chipL[i],x0,chipLeftTicks[i],chipLeftMinor[i],chipLTop[i],chipBot[i],{ts:3,tp:2,tc:"#222",lc:"#6cc39c",ac:"#111",fs:15});

  // Nascent
  hLine(x0,x1,nasBot,"#999",1.5);
  drawLine(nascent[i],x,nasS[i],NAVY_LINE,2.7);
  yAxis(nasS[i],x0,nascentTicks[i],nascentMinor[i],nasTop[i],nasBot,{tc:"#222",lc:"#86a3d6",ac:"#111",fs:15});
  const lt=T(x0-23,logLabY[i],"(log",{fs:15,c:"#86a3d6"});
  lt.append("tspan").attr("dy",4).attr("font-size",12).text("2");
  lt.append("tspan").attr("dy",-4).text(")");

  // CLIP
  const cy=lin(0,clipBot,clipMax[i],clipTopV);
  svg.append("g").selectAll("line").data(clip[i]).join("line")
    .attr("x1",d=>x(d[0])).attr("x2",d=>x(d[0]))
    .attr("y1",cy(0)).attr("y2",d=>cy(d[1]))
    .attr("stroke",RED).attr("stroke-width",1.2).attr("stroke-opacity",0.85);
  hLine(x0,x1,clipBot+0.5,"#111",1.8);
  yAxis(cy,x0,[0,clipMax[i]],[],377,clipBot+1,{ts:0,tp:3,tc:"#111",lc:"#ef7f7f",ac:"#111",fs:14});
  svg.append("g").selectAll("rect").data(clusters[i]).join("rect")
    .attr("x",d=>x(d[0])).attr("width",d=>Math.max(1.4,x(d[1])-x(d[0])))
    .attr("y",463).attr("height",6).attr("fill","#9e1f22");

  // gene model
  svg.append("line").attr("x1",x(0)).attr("x2",x(100)).attr("y1",493).attr("y2",493)
    .attr("stroke","#333").attr("stroke-width",1.2).attr("stroke-dasharray","3.5,2.5");
  svg.append("g").selectAll("rect").data(exons[i]).join("rect")
    .attr("x",d=>x(d[0])).attr("width",d=>Math.max(1.4,x(d[1])-x(d[0])))
    .attr("y",d=>493-10*d[2]).attr("height",d=>20*d[2]).attr("fill","#222");
  svg.append("path").attr("d",`M${x(0)},490V477H${x(0)+11}`).attr("fill","none").attr("stroke","#111").attr("stroke-width",1.6);
  svg.append("path").attr("d",`M${x(0)+10},473L${x(0)+16},477L${x(0)+10},481Z`).attr("fill","#111");

  // yellow highlight
  const h=highlightRegions[i];
  svg.append("rect").attr("x",x(h[0])).attr("y",56).attr("width",x(h[1])-x(h[0])).attr("height",453)
    .attr("fill","none").attr("stroke","#f4ec1a").attr("stroke-width",3);
});

// ---------- Panel B & C legends ----------
function pColor(v){ return v>=7?"#111":v>=5?"#858585":v>=4?"#aaa":"#cdcdcd"; }
function legend(o){
  svg.append("rect").attr("x",o.bx).attr("y",o.by).attr("width",o.bw).attr("height",o.bh)
    .attr("fill","#fff").attr("stroke","#c4b48c").attr("stroke-width",1.6);
  const t=T(o.tx,563,"Scores of FUS-CLIP clusters",{ff:FL,fs:15.5,c:"#111"});
  const w=t.node().getComputedTextLength();
  hLine(o.tx,o.tx+w,566,"#111",1);
  const rowY=[587,608,628];
  legendScores.forEach((s,k)=>{
    if(k<2){ T(o.rx,rowY[k],s,{ff:FL,fs:15.5,c:"#111"}); T(o.cx,rowY[k],legendCounts[k],{ff:FL,fs:15.5,c:"#111"}); }
    else T(o.rx,rowY[k],s+" "+legendCounts[k],{ff:FL,fs:15.5,c:"#111"});
    hLine(o.lx,o.lx+31,rowY[k]-5,o.colors[k],4);
  });
  const p=T(o.px,584,"-log10(",{ff:FL,fs:15.5,c:"#111"});
  p.append("tspan").attr("font-style","italic").text("p");
  p.append("tspan").text("-value)");
  pvalLevels.forEach((v,k)=>{
    svg.append("circle").attr("cx",o.dx[k]).attr("cy",600).attr("r",4.5).attr("fill",pColor(v));
    T(o.dx[k],619,String(v),{ff:FL,fs:15.5,c:"#111",a:"middle"});
  });
}
const bColors=["#0f6636","#3cb45a","#e6e13a"];
const cColors=["#243b96","#2f9bd8","#beb7dd"];
legend({bx:47,by:538,bw:333,bh:99,tx:52,rx:61,cx:128,lx:225,px:280,dx:[307,326,345],colors:bColors});
legend({bx:462,by:546,bw:333,bh:89,tx:468,rx:477,cx:545,lx:642,px:687,dx:[723,741,760],colors:cColors});

T(7,565,"B",{fs:23,fw:"bold"});
T(392,565,"C",{fs:23,fw:"bold"});

// ---------- Panel B plot ----------
const bx=d3.scaleLinear().domain([-1000,1000]).range([96,355]);
const by=d3.scaleLinear().domain([1.0,1.2]).range([872.7,710.7]);
function xAxis(scale,y,ticks,labels,x0,x1){
  const g=svg.append("g").attr("transform",`translate(0,${y})`)
    .call(d3.axisBottom(scale).tickValues(ticks).tickSize(6).tickPadding(4).tickFormat(d=>labels.includes(d)?String(d):""));
  g.select(".domain").remove();
  g.selectAll(".tick line").attr("stroke","#111").attr("stroke-width",1.5);
  g.selectAll(".tick text").attr("font-size",16).attr("font-family",F).attr("fill","#111");
  hLine(x0,x1,y,"#111",1.8);
  return g;
}
xAxis(bx,913,[-1000,-500,0,500,1000],[-1000,0,1000],96,355);
yAxis(by,96,[1.0,1.1,1.2],[1.05,1.15,1.25],663,913,{tc:"#111",lc:"#3cb464",ac:"#111",fs:15,fw:"bold",ts:5,tp:4,fmt:d3.format(".1f")});
const bSeries=[b100to300,b300to500,bGt500];
[2,1,0].forEach((k,j)=>drawLine(bSeries[j],bx,by,bColors[k],3));
function signif(data,xs,y){
  const sorted=data.slice().sort((a,b)=>a[2]-b[2]);
  svg.append("g").selectAll("rect").data(sorted).join("rect")
    .attr("x",d=>xs(d[0])).attr("width",d=>xs(d[1])-xs(d[0])).attr("y",y-3.5).attr("height",7)
    .attr("rx",3.5).attr("fill",d=>pColor(d[2]));
}
signif(bSignif,bx,905);
T(226,958,"Distance from",{fs:15,fw:"bold",a:"middle"});
T(230,975,"FUS-CLIP cluster peak (nt)",{fs:15,fw:"bold",a:"middle"});
const BG="#2fae5c";
T(20,790,"FUS-dependent",{fs:20.5,c:BG,a:"middle",tr:"rotate(-90,20,790)"});
T(41,793,"RNAP II accumulation",{fs:19,c:BG,a:"middle",tr:"rotate(-90,41,793)"});
T(63,793,"(siCont/siFus)",{fs:20.5,c:BG,a:"middle",tr:"rotate(-90,63,793)"});

// ---------- Panel C plot ----------
const cxs=d3.scaleLinear().domain([-3000,3000]).range([496,789]);
const cys=d3.scaleLinear().domain([-0.1,0]).range([894,753.3]);
const gx=xAxis(cxs,913,[-3000,-2000,-1000,0,1000,2000,3000],[-3000,0,3000],496,789);
gx.selectAll(".tick text").filter(d=>d===3000).attr("text-anchor","end").attr("dx",9);
yAxis(cys,496,[0,-0.1],[],653,913,{tc:"#111",lc:"#86a3d6",ac:"#111",fs:16,ts:5,tp:4});
const cSeries=[c100to300,c300to500,cGt500];
[2,1,0].forEach((k,j)=>drawLine(cSeries[j],cxs,cys,cColors[k],3));
signif(cSignif,cxs,904);
const cl=T(460,652,"(log",{fs:16,c:"#86a3d6"});
cl.append("tspan").attr("dy",4).attr("font-size",12).text("2");
cl.append("tspan").attr("dy",-4).text(")");
T(640,958,"Distance from",{fs:15,fw:"bold",a:"middle"});
T(642,975,"FUS-CLIP cluster peak (nt)",{fs:15,fw:"bold",a:"middle"});
const CB="#3d6cc0";
T(431,794,"Relative expression of nascent transcripts",{fs:18,c:CB,a:"middle",tr:"rotate(-90,431,794)"});
T(456,794,"(siFus/siCont)",{fs:20.5,c:CB,a:"middle",tr:"rotate(-90,456,794)"});
</script></body></html>
